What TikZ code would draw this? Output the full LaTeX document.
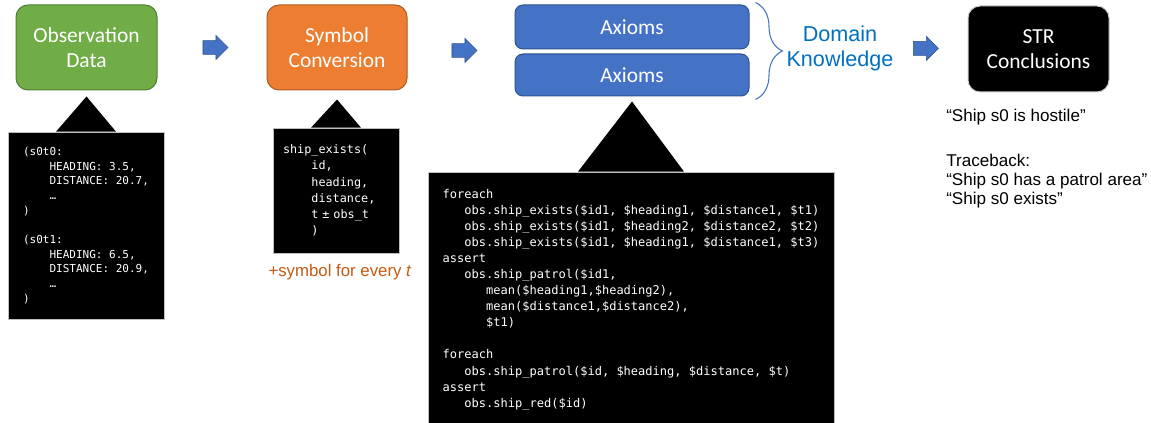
\documentclass[tikz,border=0pt]{standalone}
\usepackage{fontspec}
\setmainfont{Liberation Sans}
\setmonofont{DejaVu Sans Mono}
\newfontfamily\calibri{Carlito}
\usetikzlibrary{shapes.arrows,decorations.pathreplacing,calc}

\definecolor{obsgreen}{HTML}{70AD47}
\definecolor{obsgreenline}{HTML}{507E32}
\definecolor{symorange}{HTML}{ED7D31}
\definecolor{symorangeline}{HTML}{AE5A21}
\definecolor{axblue}{HTML}{4472C4}
\definecolor{axblueline}{HTML}{2F528F}
\definecolor{dkblue}{HTML}{0070C0}
\definecolor{noteorange}{HTML}{C55A11}

% indent by n characters of the mono font
\newcommand{\indt}[1]{\hspace*{#1\fontcharwd\font`x}}

\begin{document}
\begin{tikzpicture}[x=0.75pt,y=-0.75pt,
  stage/.style={rounded corners=9pt, line width=0.75pt, text=white, align=center,
    font=\calibri\fontsize{16.1pt}{18.75pt}\selectfont, inner sep=0pt},
  axiom/.style={stage, rounded corners=6pt, fill=axblue, draw=axblueline,
    minimum width=175.5pt},
  codebox/.style={fill=black, draw=black!25, line width=0.5pt, text=white, align=left},
  blockarrow/.style={single arrow, fill=axblue, draw=axblueline, line width=0.4pt,
    minimum height=18.75pt, minimum width=18pt, inner sep=5pt,
    single arrow head extend=3.75pt}]
  \useasboundingbox (0,0) rectangle (1151,423);
  \clip (0,0) rectangle (1151,423);

  % pipeline stages
  \node[stage, fill=obsgreen, draw=obsgreenline, minimum width=105.75pt,
    minimum height=63.75pt] (obs) at (86.5,47.5) {Observation\\Data};
  \node[stage, fill=symorange, draw=symorangeline, minimum width=105pt,
    minimum height=63.75pt] (sym) at (337,47.5) {Symbol\\Conversion};
  \node[axiom, minimum height=33pt] (ax1) at (632,27) {Axioms};
  \node[axiom, minimum height=31.5pt] (ax2) at (632,75) {Axioms};
  \node[text=dkblue, align=center, font=\fontsize{16.2pt}{18.75pt}\selectfont]
    (dk) at (840,48) {Domain\\Knowledge};
  \node[stage, fill=black, draw=black!20, minimum width=105.75pt,
    minimum height=64.5pt] (str) at (1038.5,49) {STR\\Conclusions};

  \draw[axblue, line width=0.8pt, decorate, decoration={brace, amplitude=20.25pt}]
    ($(ax1.north east)+(6,-2)$) -- ($(ax2.south east)+(6,3)$);

  % block arrows
  \node[blockarrow] (a1) at ($(obs.east)!0.5!(sym.west)$) {};
  \node[blockarrow] (a2) at ($(sym.east)!0.5!(ax2.north west)$) {};
  \node[blockarrow] (a3) at ($(dk.east)!0.35!(str.west)$) {};

  % callouts
  \node[codebox, minimum width=117pt, minimum height=140.25pt,
    font=\ttfamily\fontsize{8.25pt}{11pt}\selectfont] (obscode) at (86,225.5) {%
    (s0t0:\\
    \indt{4}HEADING: 3.5,\\
    \indt{4}DISTANCE: 20.7,\\
    \indt{4}…\\
    )\\[11pt]
    (s0t1:\\
    \indt{4}HEADING: 6.5,\\
    \indt{4}DISTANCE: 20.9,\\
    \indt{4}…\\
    )};
  \fill ($(obscode.north)+(-30,0)$) -- ($(obs.south)+(0,6)$)
    -- ($(obscode.north)+(30,0)$) -- cycle;

  \node[codebox, text width=79.5pt, inner xsep=7.5pt, minimum height=93.75pt,
    font=\ttfamily\fontsize{8.85pt}{12.2pt}\selectfont] (symcode) at (336,190.5) {%
    ship\_exists(\\
    \indt{4}id,\\
    \indt{4}heading,\\
    \indt{4}distance,\\
    \indt{4}t ± obs\_t\\
    \indt{4})};
  \fill ($(symcode.north)+(-25,0)$) -- ($(sym.south)+(0,9)$)
    -- ($(symcode.north)+(25,0)$) -- cycle;
  \node[text=noteorange, font=\fontsize{12.6pt}{15pt}\selectfont]
    (symnote) at (340,272) {+symbol for every \textit{t}};

  \node[codebox, minimum width=304.5pt, minimum height=191.25pt,
    font=\ttfamily\fontsize{9.03pt}{12.06pt}\selectfont] (axcode) at (631,299.5) {%
    foreach\\
    \indt{3}obs.ship\_exists(\$id1, \$heading1, \$distance1, \$t1)\\
    \indt{3}obs.ship\_exists(\$id1, \$heading2, \$distance2, \$t2)\\
    \indt{3}obs.ship\_exists(\$id1, \$heading1, \$distance1, \$t3)\\
    assert\\
    \indt{3}obs.ship\_patrol(\$id1,\\
    \indt{6}mean(\$heading1,\$heading2),\\
    \indt{6}mean(\$distance1,\$distance2),\\
    \indt{6}\$t1)\\[12.06pt]
    foreach\\
    \indt{3}obs.ship\_patrol(\$id, \$heading, \$distance, \$t)\\
    assert\\
    \indt{3}obs.ship\_red(\$id)};
  \fill ($(axcode.north)+(-53,0)$) -- ($(ax2.south)+(0,5)$)
    -- ($(axcode.north)+(53,0)$) -- cycle;

  % conclusions
  \node[anchor=north west, inner sep=0pt, align=left,
    font=\fontsize{12.8pt}{14.3pt}\selectfont] (concl) at (946,109) {%
    “Ship s0 is hostile”\\[19.5pt]
    Traceback:\\
    “Ship s0 has a patrol area”\\
    “Ship s0 exists”};
\end{tikzpicture}
\end{document}
